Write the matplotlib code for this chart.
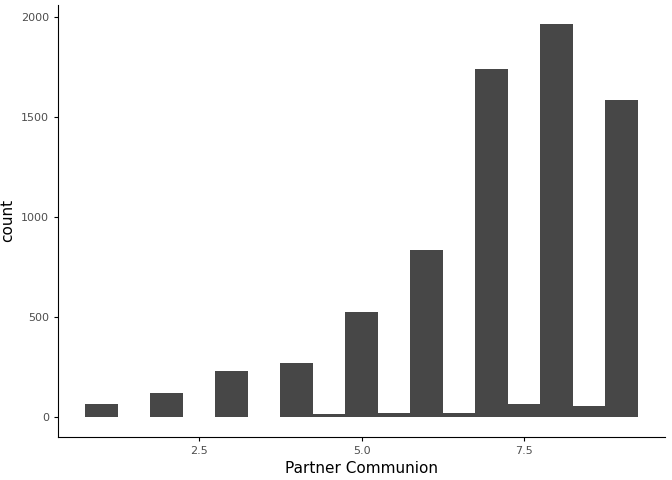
import matplotlib
matplotlib.use("Agg")
import matplotlib.pyplot as plt

centers = [1, 1.5, 2, 2.5, 3, 3.5, 4, 4.5, 5, 5.5, 6, 6.5, 7, 7.5, 8, 8.5, 9]
counts = [65, 0, 120, 2, 231, 3, 271, 15, 528, 20, 834, 20, 1744, 65, 1965, 55, 1588]

fig = plt.figure(figsize=(6.72, 4.8), dpi=100)
ax = fig.add_axes([0.086, 0.09, 0.904, 0.9])
ax.bar(centers, counts, width=0.5, color="#474747")
ax.set_xlim(0.325, 9.675)
ax.set_ylim(-98, 2063)
ax.set_xticks([2.5, 5.0, 7.5])
ax.set_xticklabels(["2.5", "5.0", "7.5"])
ax.set_yticks([0, 500, 1000, 1500, 2000])
for s in ["top", "right"]:
    ax.spines[s].set_visible(False)
ax.tick_params(labelsize=8, colors="#4d4d4d", length=3)
ax.tick_params(colors="black", which="both", labelcolor="#4d4d4d")
ax.set_xlabel("Partner Communion", fontsize=11)
ax.set_ylabel("count", fontsize=11)
fig.savefig("out.png")
